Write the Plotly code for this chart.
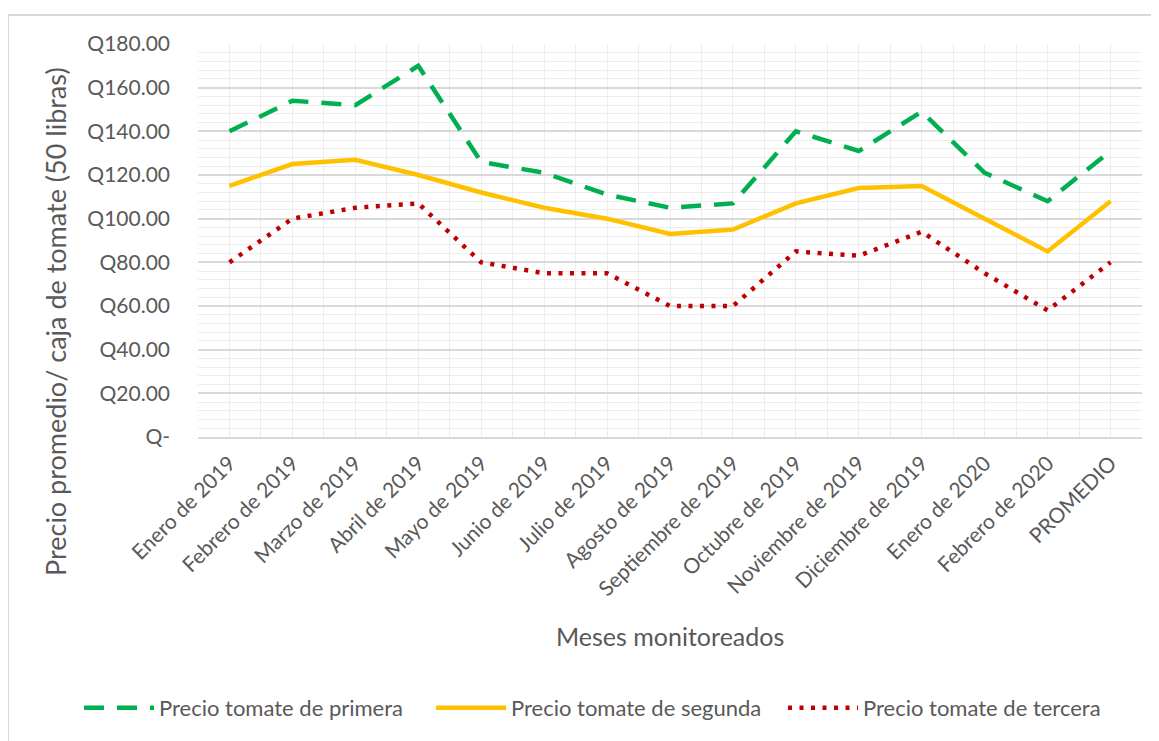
import plotly.graph_objects as go

meses = ["Enero de 2019", "Febrero de 2019", "Marzo de 2019", "Abril de 2019",
         "Mayo de 2019", "Junio de 2019", "Julio de 2019", "Agosto de 2019",
         "Septiembre de 2019", "Octubre de 2019", "Noviembre de 2019",
         "Diciembre de 2019", "Enero de 2020", "Febrero de 2020", "PROMEDIO"]

primera = [140, 154, 152, 170, 126, 121, 111, 105, 107, 140, 131, 149, 121, 108, 131]
segunda = [115, 125, 127, 120, 112, 105, 100, 93, 95, 107, 114, 115, 100, 85, 108]
tercera = [80, 100, 105, 107, 80, 75, 75, 60, 60, 85, 83, 94, 75, 58, 80]

y_ticks = [0, 20, 40, 60, 80, 100, 120, 140, 160, 180]
y_ticktext = ["Q-", "Q20.00", "Q40.00", "Q60.00", "Q80.00", "Q100.00",
              "Q120.00", "Q140.00", "Q160.00", "Q180.00"]

W, H = 1159, 741
OFF = 8  # page body margin offset
# target plot box in screen pixels: left 198, right 1142, top 44, bottom 437
ML = 198 - OFF
MT = 44 - OFF
MR = W - (1142 - OFF)
MB = H - (437 - OFF)
FONT = "Lato"
GRAY = "#595959"

xpos = list(range(len(meses)))

fig = go.Figure()
fig.add_trace(go.Scatter(x=xpos, y=primera, mode="lines", name="Precio tomate de primera",
                         line=dict(color="#00B050", width=4.5, dash="20px,13px")))
fig.add_trace(go.Scatter(x=xpos, y=segunda, mode="lines", name="Precio tomate de segunda",
                         line=dict(color="#FFC000", width=4.5)))
fig.add_trace(go.Scatter(x=xpos, y=tercera, mode="lines", name="Precio tomate de tercera",
                         line=dict(color="#C00000", width=4.5, dash="4px,7.5px")))

minor_x = [i - 0.5 for i in range(len(meses) + 1)]

fig.update_xaxes(
    range=[-0.5, len(meses) - 0.5], automargin=False,
    tickmode="array", tickvals=xpos, ticktext=meses, tickangle=-45,
    tickfont=dict(family=FONT, size=21, color=GRAY),
    showgrid=True, gridcolor="#EDEDED", gridwidth=1,
    minor=dict(tickmode="array", tickvals=minor_x, showgrid=True,
               gridcolor="#EDEDED", gridwidth=1),
    showline=True, linecolor="#D9D9D9", linewidth=1.5, mirror=False,
    zeroline=False, ticks="", ticklabelstandoff=4,
)
fig.update_yaxes(
    range=[0, 180], automargin=False,
    tickmode="array", tickvals=y_ticks, ticktext=y_ticktext,
    tickfont=dict(family=FONT, size=21, color=GRAY),
    showgrid=True, gridcolor="#D9D9D9", gridwidth=1.5,
    minor=dict(dtick=4, tick0=0, showgrid=True, gridcolor="#EDEDED", gridwidth=1),
    zeroline=False, ticks="", ticklen=0, ticklabelstandoff=27,
)

pw = W - ML - MR
ph = H - MT - MB


def px_x(p):
    return (p - OFF - ML) / pw


def px_y(p):
    return (H - MB - (p - OFF)) / ph


# axis titles
fig.add_annotation(text="Meses monitoreados", xref="paper", yref="paper",
                   x=px_x(670), y=px_y(636), showarrow=False,
                   xanchor="center", yanchor="middle",
                   font=dict(family=FONT, size=25, color=GRAY))
fig.add_annotation(text="Precio promedio/ caja de tomate (50 libras)", xref="paper",
                   yref="paper", x=px_x(55), y=px_y(322), showarrow=False, textangle=-90,
                   xanchor="center", yanchor="middle",
                   font=dict(family=FONT, size=27, color=GRAY))

# chart-area border (top-left visible)
fig.add_shape(type="rect", xref="paper", yref="paper",
              x0=px_x(8), x1=px_x(W + 20), y0=px_y(H + 20), y1=px_y(15),
              line=dict(color="#D9D9D9", width=2), fillcolor="rgba(0,0,0,0)", layer="below")

fig.update_layout(
    width=W, height=H,
    margin=dict(l=ML, r=MR, t=MT, b=MB, autoexpand=False),
    plot_bgcolor="white", paper_bgcolor="white",
    legend=dict(orientation="h", x=px_x(79), xanchor="left", y=px_y(708), yanchor="middle",
                font=dict(family=FONT, size=22, color=GRAY),
                itemwidth=70, entrywidth=267, entrywidthmode="pixels",
                traceorder="normal"),
)

fig.write_html("out.html")
